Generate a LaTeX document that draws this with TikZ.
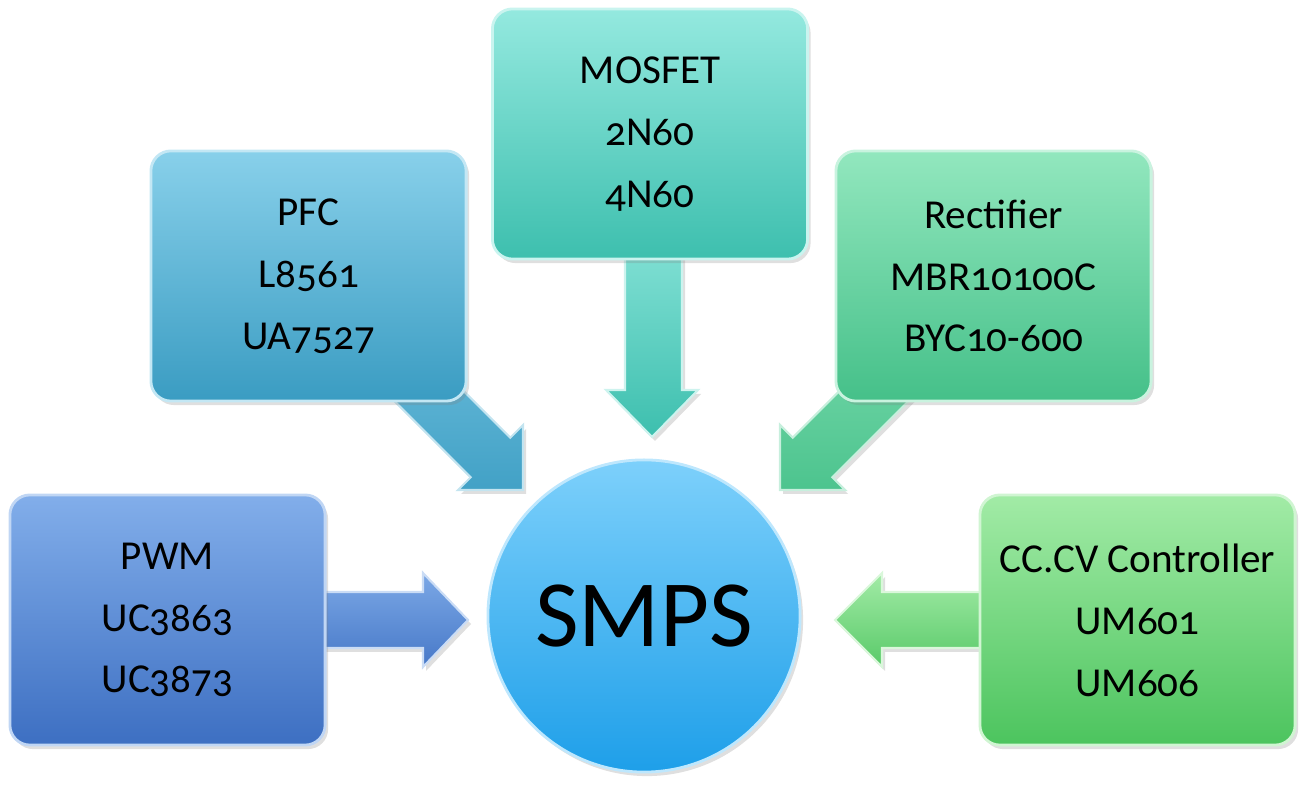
\documentclass[tikz,border=0pt]{standalone}
\usepackage{fontspec}
\setmainfont{Carlito}[Numbers=OldStyle]
\usetikzlibrary{shadows}
\definecolor{pwmT}{HTML}{82AEEA}\definecolor{pwmB}{HTML}{3D6FC2}
\definecolor{pfcT}{HTML}{88D0EA}\definecolor{pfcB}{HTML}{3A9CC2}
\definecolor{mosT}{HTML}{94E9DF}\definecolor{mosB}{HTML}{3DBFAE}
\definecolor{recT}{HTML}{92E7BE}\definecolor{recB}{HTML}{45C089}
\definecolor{ccT}{HTML}{A2EBA6}\definecolor{ccB}{HTML}{4CC45E}
\definecolor{smT}{HTML}{7DD0FB}\definecolor{smB}{HTML}{1E9FE9}
\begin{document}
\begin{tikzpicture}[x=0.01cm,y=-0.01cm,
  shad/.style={drop shadow={opacity=0.25,shadow xshift=0.03cm,shadow yshift=-0.04cm}},
  box/.style 2 args={rounded corners=0.2cm, minimum width=3.15cm, minimum height=2.5cm,
    align=center, font=\fontsize{11.7}{17.6}\selectfont, top color=#1, bottom color=#2,
    draw=#1!50!white, line width=0.8pt, shad},
  blk/.style 2 args={top color=#1, bottom color=#2, draw=#1!40!white, line width=0.6pt, shad}]
\useasboundingbox (0,0) rectangle (1303,786);
% block arrows
\draw[blk={pwmT!90!pwmB}{pwmB!85!pwmT}] (300,592) -- (423,592) -- (423,573) -- (468,620) -- (423,667) -- (423,648) -- (300,648) -- cycle;
\draw[blk={ccT}{ccB!85!ccT}] (1000,592) -- (882,592) -- (882,573) -- (835,620) -- (882,667) -- (882,648) -- (1000,648) -- cycle;
\draw[blk={mosT!80!mosB}{mosB}] (625,240) -- (682,240) -- (682,390) -- (698,390) -- (652,437) -- (606,390) -- (625,390) -- cycle;
\draw[blk={pfcT!60!pfcB}{pfcB!90!pfcT}] (404.3,331.7) -- (510.3,437.7) -- (523,425) -- (523,490) -- (458,490) -- (470.7,477.3) -- (364.7,371.3) -- cycle;
\draw[blk={recT!60!recB}{recB!90!recT}] (898.7,331.7) -- (792.7,437.7) -- (780,425) -- (780,490) -- (845,490) -- (832.3,477.3) -- (938.3,371.3) -- cycle;
% boxes
\node[box={pwmT}{pwmB}] (pwm) at (167.5,620) {PWM\\UC3863\\UC3873};
\node[box={pfcT}{pfcB}] (pfc) at (308.5,276) {PFC\\L8561\\UA7527};
\node[box={mosT}{mosB}] (mos) at (650,134) {MOSFET\\2N60\\4N60};
\node[box={recT}{recB}] (rect) at (993.5,276) {Rectifier\\MBR10100C\\BYC10-600};
\node[box={ccT}{ccB}] (cc) at (1137.5,620) {CC.CV Controller\\UM601\\UM606};
% centre
\node[circle, minimum size=3.12cm, inner sep=0pt, top color=smT, bottom color=smB,
  draw=smT!50!white, line width=0.8pt, shad, font=\fontsize{27}{30}\selectfont] (smps) at (644,616) {SMPS};
\end{tikzpicture}
\end{document}
